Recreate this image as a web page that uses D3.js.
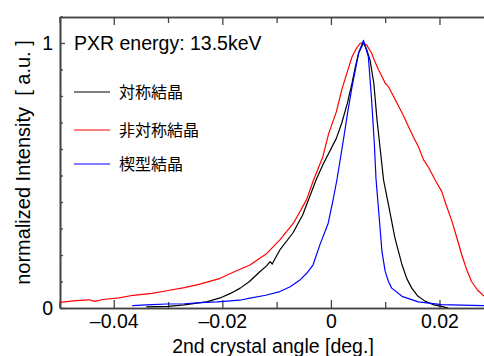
<!DOCTYPE html>
<html>
<head>
<meta charset="utf-8">
<script src="https://cdn.jsdelivr.net/npm/d3@7"></script>
<style>
body { margin: 0; background: #fff; }
svg { display: block; font-family: "Liberation Sans", Arial, sans-serif; }
</style>
</head>
<body>
<div id="chart"></div>
<script>
// series: [angle (deg), normalized intensity]
var asymData = [
    [-0.05, 0.021], [-0.047, 0.028], [-0.0445, 0.031], [-0.0435, 0.025], [-0.042, 0.032],
    [-0.039, 0.038], [-0.0364, 0.048], [-0.033, 0.055], [-0.0302, 0.065], [-0.027, 0.077],
    [-0.0241, 0.09], [-0.0204, 0.112], [-0.018, 0.135], [-0.0149, 0.162], [-0.0118, 0.206],
    [-0.0094, 0.257], [-0.0069, 0.32], [-0.0045, 0.408], [-0.0032, 0.483], [-0.0015, 0.57],
    [-0.0004, 0.659], [0.001, 0.74], [0.002, 0.823], [0.003, 0.89], [0.0039, 0.948],
    [0.0047, 0.98], [0.0054, 0.999], [0.006, 1.0], [0.0066, 0.992], [0.0075, 0.961],
    [0.0082, 0.925], [0.0088, 0.898], [0.0095, 0.87], [0.01, 0.848], [0.0106, 0.835],
    [0.0115, 0.8], [0.0125, 0.76], [0.0135, 0.72], [0.0143, 0.684], [0.0152, 0.645],
    [0.0161, 0.609], [0.0171, 0.558], [0.018, 0.53], [0.0192, 0.483], [0.0204, 0.44],
    [0.0213, 0.385], [0.0223, 0.327], [0.0232, 0.265], [0.0241, 0.201], [0.025, 0.145],
    [0.0259, 0.1], [0.027, 0.068], [0.0282, 0.045]
];
var symData = [
    [-0.034, 0.004], [-0.03, 0.006], [-0.027, 0.012], [-0.024, 0.02], [-0.0229, 0.023],
    [-0.0204, 0.038], [-0.0185, 0.055], [-0.0167, 0.075], [-0.015, 0.1], [-0.0131, 0.137],
    [-0.0118, 0.16], [-0.0112, 0.175], [-0.0108, 0.166], [-0.0104, 0.182], [-0.0094, 0.219],
    [-0.007, 0.283], [-0.0052, 0.351], [-0.0027, 0.485], [-0.0015, 0.54], [-0.0004, 0.584],
    [0.001, 0.64], [0.002, 0.698], [0.003, 0.77], [0.0039, 0.849], [0.0045, 0.91],
    [0.0051, 0.962], [0.006, 1.0], [0.0066, 0.975], [0.0072, 0.936], [0.0079, 0.849],
    [0.0085, 0.709], [0.0091, 0.596], [0.0097, 0.483], [0.0106, 0.39], [0.0118, 0.264],
    [0.0131, 0.163], [0.014, 0.11], [0.0149, 0.075], [0.016, 0.045], [0.0174, 0.025],
    [0.019, 0.012], [0.0204, 0.006], [0.0216, 0.0]
];
var wedgeData = [
    [-0.0366, 0.009], [-0.033, 0.013], [-0.0302, 0.015], [-0.027, 0.016], [-0.024, 0.02],
    [-0.021, 0.023], [-0.0185, 0.027], [-0.0164, 0.031], [-0.0149, 0.037], [-0.012, 0.048],
    [-0.0094, 0.062], [-0.0075, 0.08], [-0.0057, 0.106], [-0.0045, 0.13], [-0.0033, 0.162],
    [-0.002, 0.24], [-0.0005, 0.32], [0.0004, 0.408], [0.0011, 0.483], [0.0023, 0.634],
    [0.0031, 0.74], [0.0039, 0.835], [0.0051, 0.961], [0.006, 1.01], [0.0069, 0.948],
    [0.0075, 0.785], [0.008, 0.62], [0.0083, 0.49], [0.0088, 0.365], [0.0094, 0.214],
    [0.01, 0.138], [0.0106, 0.1], [0.0112, 0.075], [0.0131, 0.044], [0.0161, 0.023],
    [0.0204, 0.013], [0.024, 0.011], [0.0282, 0.009]
];

var seriesNames = ["対称結晶", "非対称結晶", "楔型結晶"];
var seriesColours = ["#000", "#f00", "#00f"];
var seriesData = [symData, asymData, wedgeData];

var xMajorTicks = [-0.04, -0.02, 0, 0.02];
var xMinorTicks = [-0.05, -0.03, -0.01, 0.01];
var yMajorTicks = [0, 1];
var yMinorTicks = [0.1, 0.2, 0.3, 0.4, 0.5, 0.6, 0.7, 0.8, 0.9, 1.1];
var energyLabel = "PXR energy: 13.5keV";

var width = 484, height = 356;
var plotLeft = 60, plotRight = 484, plotTop = 17, plotBottom = 308;
var fontSize = "19.5px";

var x = d3.scaleLinear().domain([-0.0499, 0.0282]).range([plotLeft, plotRight]);
var y = d3.scaleLinear().domain([0, 1.098]).range([plotBottom, plotTop]);

var svg = d3.select("#chart")
    .append("svg")
    .attr("width", width)
    .attr("height", height);

svg.append("defs").append("clipPath")
    .attr("id", "plot")
    .append("rect")
    .attr("x", plotLeft).attr("y", plotTop)
    .attr("width", plotRight - plotLeft).attr("height", plotBottom - plotTop);

var fmt = d => d == 0 ? "0" : d3.format(".2f")(d).replace("-", "\u2013").replace("\u2212", "\u2013");

// axes
var axisColour = "#444";
var bottomAxis = svg.append("g").attr("transform", `translate(0,${plotBottom})`)
    .call(d3.axisBottom(x).tickValues(xMajorTicks).tickFormat(fmt).tickSizeInner(-8).tickSizeOuter(0).tickPadding(6));
var bottomMinor = svg.append("g").attr("transform", `translate(0,${plotBottom})`)
    .call(d3.axisBottom(x).tickValues(xMinorTicks).tickFormat("").tickSizeInner(-6).tickSizeOuter(0));
var topAxis = svg.append("g").attr("transform", `translate(0,${plotTop})`)
    .call(d3.axisTop(x).tickValues(xMajorTicks).tickFormat("").tickSizeInner(-8).tickSizeOuter(0));
var topMinor = svg.append("g").attr("transform", `translate(0,${plotTop})`)
    .call(d3.axisTop(x).tickValues(xMinorTicks).tickFormat("").tickSizeInner(-6).tickSizeOuter(0));
var leftAxis = svg.append("g").attr("transform", `translate(${plotLeft},0)`)
    .call(d3.axisLeft(y).tickValues(yMajorTicks).tickFormat(d3.format("d")).tickSizeInner(-5).tickSizeOuter(0).tickPadding(7));
var leftMinor = svg.append("g").attr("transform", `translate(${plotLeft},0)`)
    .call(d3.axisLeft(y).tickValues(yMinorTicks).tickFormat("").tickSizeInner(-3).tickSizeOuter(0));

[bottomAxis, bottomMinor, topAxis, topMinor, leftAxis, leftMinor].forEach(function (g) {
    g.selectAll("path").attr("stroke", axisColour).attr("stroke-width", 1.6);
    g.selectAll("line").attr("stroke", axisColour).attr("stroke-width", 1.3);
    g.selectAll("text").attr("fill", "#000").style("font-size", fontSize)
        .style("font-family", "'Liberation Sans', Arial, sans-serif");
});

// curves
var line = d3.line().x(d => x(d[0])).y(d => y(d[1]));
svg.append("g")
    .attr("clip-path", "url(#plot)")
    .selectAll("path")
    .data(seriesData)
    .enter()
    .append("path")
    .attr("d", line)
    .attr("fill", "none")
    .attr("stroke", (d, i) => seriesColours[i])
    .attr("stroke-width", 1.2)
    .attr("stroke-linejoin", "round");

// annotation + legend
svg.append("text")
    .attr("x", 74).attr("y", 49.5)
    .style("font-size", fontSize)
    .text(energyLabel);

var legendY = [92, 130, 164];
var legend = svg.append("g")
    .selectAll("g")
    .data(seriesNames)
    .enter()
    .append("g")
    .attr("transform", (d, i) => `translate(74,${legendY[i]})`);
legend.append("line")
    .attr("x1", 0).attr("x2", 36)
    .attr("stroke", (d, i) => seriesColours[i])
    .attr("stroke-width", 1.2);
legend.append("text")
    .attr("x", 45).attr("dy", "0.36em")
    .style("font-family", "'Noto Sans CJK JP', sans-serif")
    .style("font-size", "16px")
    .text(d => d);

// axis titles
svg.append("text")
    .attr("x", (plotLeft + plotRight) / 2 + 1).attr("y", 353)
    .attr("text-anchor", "middle")
    .style("font-size", fontSize)
    .text("2nd crystal angle [deg.]");
svg.append("text")
    .attr("transform", `translate(30,${(plotTop + plotBottom) / 2}) rotate(-90)`)
    .attr("text-anchor", "middle")
    .style("font-size", "20px")
    .style("white-space", "pre")
    .text("normalized Intensity  [ a.u. ]");
</script>
</body>
</html>
